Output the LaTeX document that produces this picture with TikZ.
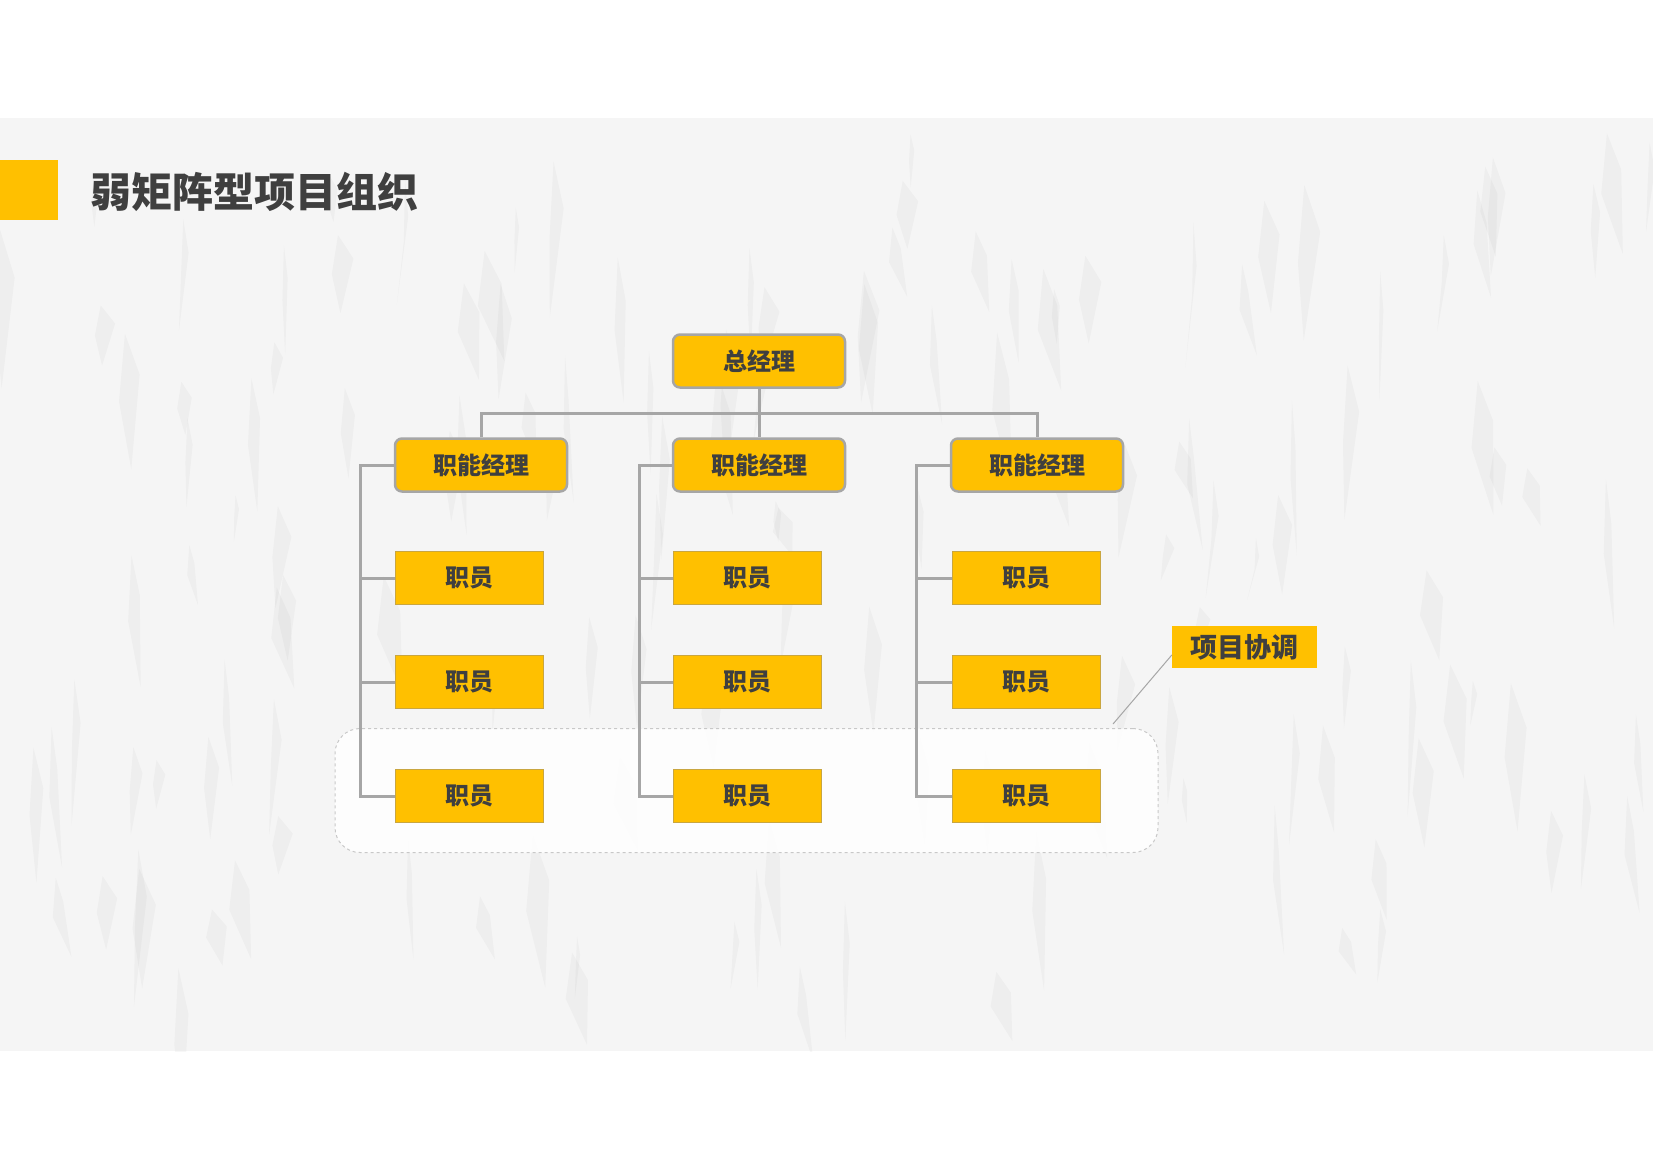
\documentclass[tikz,border=0pt]{standalone}
\usepackage{fontspec}
\newfontfamily\cjk{Noto Sans CJK SC}
\definecolor{gold}{HTML}{FFC000}
\definecolor{linegray}{HTML}{A6A6A6}
\definecolor{txt}{HTML}{3F3F3F}
\definecolor{paper}{HTML}{F5F5F5}
\definecolor{dashgray}{HTML}{C8C8C8}
\definecolor{staffedge}{HTML}{C9A640}
\tikzset{
  boxbase/.style={fill=gold, text=txt, inner sep=0pt, font=\cjk\bfseries\fontsize{24}{24}\selectfont},
  mgr/.style={boxbase, draw=linegray, line width=2.5pt, rounded corners=7pt, minimum width=172pt, minimum height=53pt},
  staff/.style={boxbase, draw=staffedge, line width=1pt, minimum width=148pt, minimum height=53pt},
  conn/.style={draw=linegray, line width=3pt},
  group/.style={draw=dashgray, dash pattern=on 3pt off 3pt, line width=1pt, rounded corners=25pt, fill=white, fill opacity=0.85, minimum width=823pt, minimum height=124pt, inner sep=0pt},
  coordbox/.style={fill=gold, text=txt, inner sep=0pt, minimum width=145pt, minimum height=42pt, font=\cjk\bfseries\fontsize{27}{27}\selectfont},
  streak/.style={fill=gray, fill opacity=0.06, draw=none}
}
\begin{document}
\begin{tikzpicture}[x=1pt, y=-1pt]
\useasboundingbox (0,0) rectangle (1653,1168);
\fill[white] (0,0) rectangle (1653,1168);
% paper texture band
\fill[paper] (0,118) rectangle (1653,1051);
\begin{scope}
\clip (0,118) rectangle (1653,1051);
\pgfmathsetseed{7}
\foreach \i in {1,...,140}{
  \pgfmathsetmacro{\sx}{rnd*1653}
  \pgfmathsetmacro{\sy}{118+rnd*860}
  \pgfmathsetmacro{\sw}{3+rnd*14}
  \pgfmathsetmacro{\sh}{40+rnd*120}
  \pgfmathsetmacro{\sk}{-12+rnd*24}
  \fill[streak] (\sx,\sy) -- (\sx+\sw,\sy+\sh*0.3) -- (\sx+\sk+\sw*0.5,\sy+\sh) -- (\sx-\sw*0.4,\sy+\sh*0.5) -- cycle;
}
\end{scope}
% title
\fill[gold] (0,160) rectangle (58,220);
\node[anchor=west, text=txt, inner sep=0pt, font=\cjk\bfseries\fontsize{41}{41}\selectfont] (title) at (90,192) {弱矩阵型项目组织};
% group
\node[group] (grp) at (746.5,790.5) {};
% nodes
\node[mgr] (top) at (759,361) {总经理};
\node[mgr] (m1) at (481,465) {职能经理};
\node[mgr] (m2) at (759,465) {职能经理};
\node[mgr] (m3) at (1037,465) {职能经理};
\node[staff] (s11) at (469,578) {职员};
\node[staff] (s12) at (469,682) {职员};
\node[staff] (s13) at (469,796) {职员};
\node[staff] (s21) at (747,578) {职员};
\node[staff] (s22) at (747,682) {职员};
\node[staff] (s23) at (747,796) {职员};
\node[staff] (s31) at (1026,578) {职员};
\node[staff] (s32) at (1026,682) {职员};
\node[staff] (s33) at (1026,796) {职员};
\node[coordbox] (coord) at (1244.5,647) {项目协调};
% connectors
\coordinate (bus) at (759,413);
\draw[conn] (top.south) -- (m2.north);
\draw[conn] (m1.north) |- (bus) -| (m3.north);
\coordinate (sp1) at (360,465);
\coordinate (sp2) at (639,465);
\coordinate (sp3) at (916,465);
\draw[conn] (m1.west) -- (sp1) |- (s13.west);
\draw[conn] (sp1 |- s11.west) -- (s11.west);
\draw[conn] (sp1 |- s12.west) -- (s12.west);
\draw[conn] (m2.west) -- (sp2) |- (s23.west);
\draw[conn] (sp2 |- s21.west) -- (s21.west);
\draw[conn] (sp2 |- s22.west) -- (s22.west);
\draw[conn] (m3.west) -- (sp3) |- (s33.west);
\draw[conn] (sp3 |- s31.west) -- (s31.west);
\draw[conn] (sp3 |- s32.west) -- (s32.west);
\coordinate (lend) at (1113,724);
\draw[draw=linegray, line width=1pt] ([yshift=-8pt]coord.west) -- (lend);
\end{tikzpicture}
\end{document}
